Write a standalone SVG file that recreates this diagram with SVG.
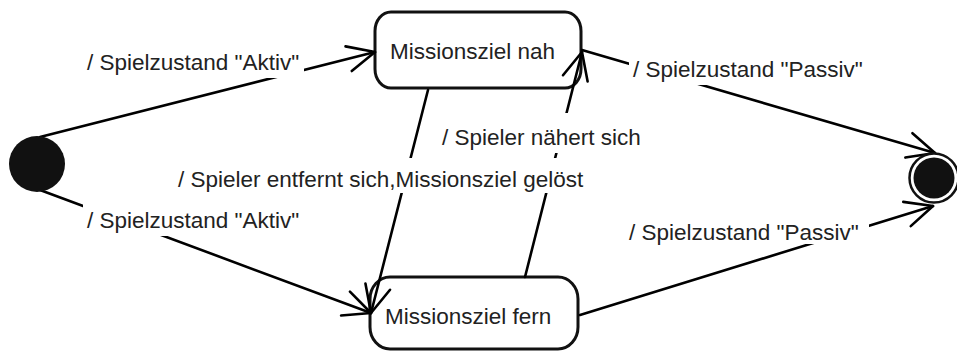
<svg xmlns="http://www.w3.org/2000/svg" width="957" height="353" viewBox="0 0 957 353">
  <style>
    .edge { fill: none; stroke: #000; stroke-width: 2.6; stroke-linecap: round; }
    .state { fill: #fff; stroke: #111; stroke-width: 3; }
    .lbl { font-family: "Liberation Sans", Arial, sans-serif; font-size: 22.5px; fill: #222; }
    .bg { fill: #fff; stroke: none; }
  </style>
  <defs>
    <marker id="open" viewBox="-30 -15 32 30" refX="0" refY="0" markerWidth="32" markerHeight="30" markerUnits="userSpaceOnUse" orient="auto" overflow="visible">
      <path d="M-27.2,-12.7 L0,0 L-27.2,12.7" fill="none" stroke="#000" stroke-width="2.6" stroke-linecap="round" stroke-linejoin="round"/>
    </marker>
  </defs>
  <rect width="957" height="353" fill="#fff"/>

  <g id="state-nah">
    <rect class="state" x="375" y="12" width="206" height="76" rx="16" ry="19"/>
    <text class="lbl" x="390" y="59">Missionsziel nah</text>
  </g>

  <g id="state-fern">
    <rect class="state" x="370" y="277" width="208" height="72" rx="20" ry="22"/>
    <text class="lbl" x="385" y="324">Missionsziel fern</text>
  </g>

  <!-- transitions -->
  <g id="connectors">
    <line class="edge" x1="40" y1="137" x2="375" y2="52" marker-end="url(#open)"/>
    <line class="edge" x1="40" y1="190" x2="371" y2="313" marker-end="url(#open)"/>
    <line class="edge" x1="428" y1="90" x2="371" y2="313" marker-end="url(#open)"/>
    <line class="edge" x1="525" y1="277" x2="582" y2="52" marker-end="url(#open)"/>
    <line class="edge" x1="582" y1="50" x2="935" y2="153" marker-end="url(#open)"/>
    <line class="edge" x1="580" y1="315" x2="933" y2="206" marker-end="url(#open)"/>
  </g>

  <!-- transition labels (white backing hides the lines behind the text) -->
  <g id="labels">
    <rect class="bg" x="83" y="40" width="221" height="38"/>
    <text class="lbl" x="87" y="70">/ Spielzustand "Aktiv"</text>
    <rect class="bg" x="83" y="198" width="221" height="38"/>
    <text class="lbl" x="87" y="228">/ Spielzustand "Aktiv"</text>
    <rect class="bg" x="629" y="47" width="240" height="38"/>
    <text class="lbl" x="633" y="77">/ Spielzustand "Passiv"</text>
    <rect class="bg" x="625" y="210" width="244" height="34"/>
    <text class="lbl" x="629" y="240">/ Spielzustand "Passiv"</text>
    <rect class="bg" x="438" y="113" width="206" height="40"/>
    <text class="lbl" x="442" y="145">/ Spieler nähert sich</text>
    <rect class="bg" x="174" y="158" width="417" height="35"/>
    <text class="lbl" x="178" y="187">/ Spieler entfernt sich,Missionsziel gelöst</text>
  </g>

  <!-- initial state -->
  <g id="start">
    <circle cx="37" cy="164" r="28" fill="#111"/>
  </g>

  <!-- final state -->
  <g id="end">
    <circle cx="934" cy="178" r="24.5" fill="#fff" stroke="#111" stroke-width="2.5"/>
    <circle cx="934" cy="178" r="20.5" fill="#111"/>
  </g>
</svg>
